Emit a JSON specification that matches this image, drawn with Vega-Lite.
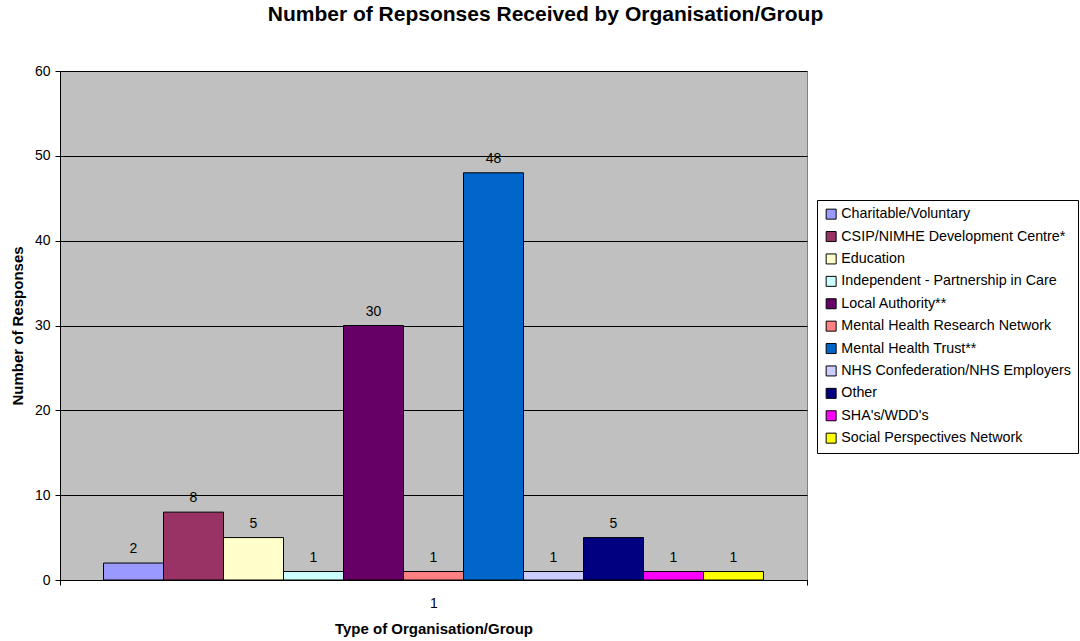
{
  "$schema": "https://vega.github.io/schema/vega-lite/v6.json",
  "width": 747,
  "height": 509,
  "autosize": {"type": "none"},
  "padding": {"left": 60, "top": 71, "right": 273, "bottom": 61},
  "background": "white",
  "config": {
    "font": "Liberation Sans",
    "view": {"fill": "#C0C0C0", "stroke": "#808080", "strokeWidth": 1}
  },
  "title": {
    "text": "Number of Repsonses Received by Organisation/Group",
    "fontSize": 21,
    "fontWeight": "bold",
    "color": "black",
    "anchor": "middle",
    "dx": 112,
    "offset": 39
  },
  "data": {
    "values": [
      {"group": "1", "org": "Charitable/Voluntary", "n": 2},
      {"group": "1", "org": "CSIP/NIMHE Development Centre*", "n": 8},
      {"group": "1", "org": "Education", "n": 5},
      {"group": "1", "org": "Independent - Partnership in Care", "n": 1},
      {"group": "1", "org": "Local Authority**", "n": 30},
      {"group": "1", "org": "Mental Health Research Network", "n": 1},
      {"group": "1", "org": "Mental Health Trust**", "n": 48},
      {"group": "1", "org": "NHS Confederation/NHS Employers", "n": 1},
      {"group": "1", "org": "Other", "n": 5},
      {"group": "1", "org": "SHA's/WDD's", "n": 1},
      {"group": "1", "org": "Social Perspectives Network", "n": 1}
    ]
  },
  "encoding": {
    "x": {
      "field": "group",
      "type": "nominal",
      "scale": {"paddingInner": 0, "paddingOuter": 0},
      "axis": {
        "title": "Type of Organisation/Group",
        "titleFontSize": 15,
        "titleFontWeight": "bold",
        "titleColor": "black",
        "titlePadding": 11,
        "labelAngle": 0,
        "labelFontSize": 14,
        "labelColor": "black",
        "labelPadding": 11,
        "tickBand": "extent",
        "tickColor": "black",
        "tickSize": 5,
        "domainColor": "black",
        "grid": false
      }
    },
    "xOffset": {
      "field": "org",
      "type": "nominal",
      "sort": null,
      "scale": {"paddingInner": 0, "paddingOuter": 0.725}
    },
    "y": {
      "field": "n",
      "type": "quantitative",
      "scale": {"domain": [0, 60]},
      "axis": {
        "title": "Number of Responses",
        "titleFontSize": 15,
        "titleFontWeight": "bold",
        "titleColor": "black",
        "titlePadding": 9,
        "values": [0, 10, 20, 30, 40, 50, 60],
        "labelFontSize": 14,
        "labelColor": "black",
        "labelPadding": 5,
        "tickColor": "black",
        "tickSize": 5,
        "domainColor": "black",
        "gridColor": "black",
        "gridOpacity": 1
      }
    }
  },
  "layer": [
    {
      "mark": {"type": "bar", "stroke": "black", "strokeWidth": 1},
      "encoding": {
        "color": {
          "field": "org",
          "type": "nominal",
          "sort": null,
          "scale": {
            "range": ["#9999FF", "#993366", "#FFFFCC", "#CCFFFF", "#660066", "#FF8080", "#0066CC", "#CCCCFF", "#000080", "#FF00FF", "#FFFF00"]
          },
          "legend": {
            "title": null,
            "orient": "none",
            "legendX": 757,
            "legendY": 129,
            "symbolType": "square",
            "symbolSize": 100,
            "symbolStrokeColor": "black",
            "symbolStrokeWidth": 1,
            "labelFontSize": 14.3,
            "labelColor": "black",
            "labelLimit": 300,
            "labelOffset": 3,
            "rowPadding": 7.4,
            "padding": 7,
            "strokeColor": "black",
            "fillColor": "white"
          }
        }
      }
    },
    {
      "mark": {"type": "text", "baseline": "bottom", "dy": -7, "fontSize": 14, "color": "black"},
      "encoding": {"text": {"field": "n", "type": "quantitative"}}
    }
  ]
}
